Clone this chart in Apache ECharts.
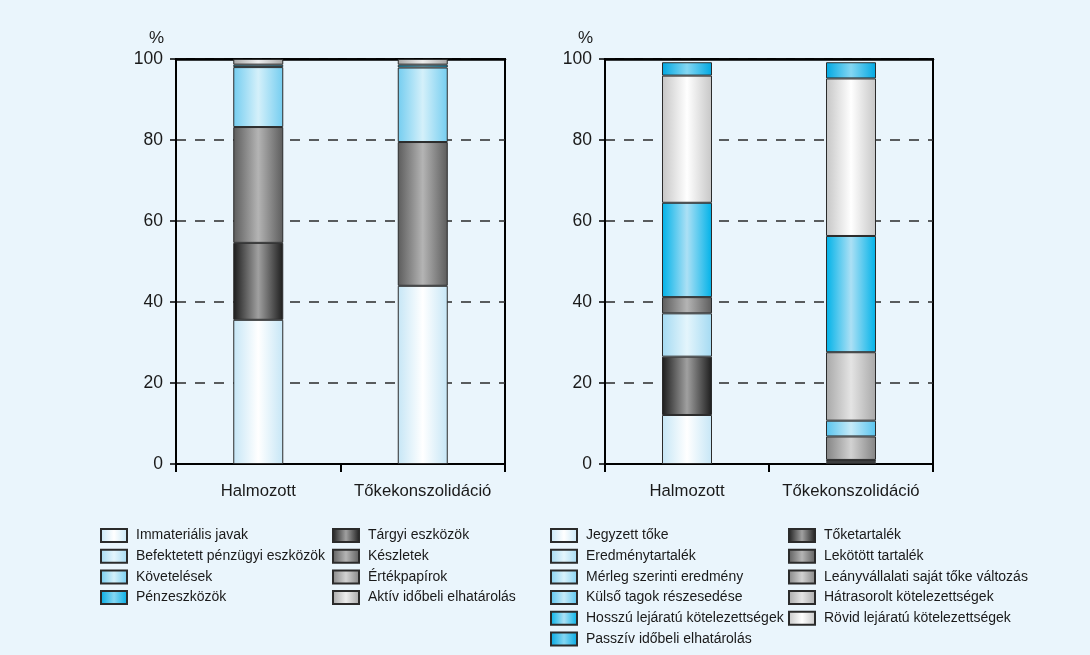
<!DOCTYPE html>
<html>
<head>
<meta charset="utf-8">
<script src="https://cdn.jsdelivr.net/npm/echarts@6/dist/echarts.min.js"></script>
<style>
  html, body { margin: 0; padding: 0; background: #eaf5fc; }
  #chart { width: 1090px; height: 655px; }
</style>
</head>
<body>
<div id="chart"></div>
<script>
// Categories shared by both panels
const categories = ['Halmozott', 'Tőkekonszolidáció'];
const yTicks = [0, 20, 40, 60, 80, 100];

// Assets (eszközök), %, stacked bottom to top
const assetNames = [
  'Immateriális javak', 'Tárgyi eszközök', 'Befektetett pénzügyi eszközök', 'Készletek',
  'Követelések', 'Értékpapírok', 'Pénzeszközök', 'Aktív időbeli elhatárolás'
];
const immaterialis   = [35.6, 44.0];
const targyi         = [19.0, null];
const befektetett    = [null, null];
const keszletek      = [28.6, 35.5];
const kovetelesek    = [14.8, 18.4];
const ertekpapirok   = [null, null];
const penzeszkozok   = [0.6, 0.7];
const aktivElhat     = [1.4, 1.4];
const assetValues = [immaterialis, targyi, befektetett, keszletek, kovetelesek, ertekpapirok, penzeszkozok, aktivElhat];

// Liabilities and equity (források), %, stacked bottom to top
const liabNames = [
  'Jegyzett tőke', 'Tőketartalék', 'Eredménytartalék', 'Lekötött tartalék',
  'Mérleg szerinti eredmény', 'Leányvállalati saját tőke változás', 'Külső tagok részesedése',
  'Hátrasorolt kötelezettségek', 'Hosszú lejáratú kötelezettségek', 'Rövid lejáratú kötelezettségek',
  'Passzív időbeli elhatárolás'
];
const jegyzettToke   = [12.1, 0.4];
const toketartalek   = [14.4, 0.2];
const eredmenytart   = [10.7, null];
const lekotott       = [4.0, 0.4];
const merlegEredm    = [null, null];
const leanyvallalati = [null, 5.8];
const kulsoTagok     = [null, 3.9];
const hatrasorolt    = [null, 16.9];
const hosszuLejaratu = [23.3, 28.7];
const rovidLejaratu  = [31.4, 38.9];
const passzivElhat   = [3.3, 4.0];
const liabValues = [jegyzettToke, toketartalek, eredmenytart, lekotott, merlegEredm, leanyvallalati,
  kulsoTagok, hatrasorolt, hosszuLejaratu, rovidLejaratu, passzivElhat];

// Cylinder-like horizontal shading: darker edges, lighter middle
function shade(edge, mid) {
  return new echarts.graphic.LinearGradient(0, 0, 1, 0, [
    { offset: 0, color: edge }, { offset: 0.5, color: mid }, { offset: 1, color: edge }
  ]);
}
const assetColors = [
  shade('#c6e6f6', '#ffffff'),
  shade('#1c1c1c', '#a0a0a0'),
  shade('#a4daf2', '#e4f5fc'),
  shade('#5c5c5c', '#b4b4b4'),
  shade('#74cdf0', '#d4f0fa'),
  shade('#848484', '#d2d2d2'),
  shade('#00ace4', '#86d6f2'),
  shade('#a6a6a6', '#ececec')
];
const liabColors = [
  shade('#c6e6f6', '#ffffff'),
  shade('#1c1c1c', '#a0a0a0'),
  shade('#a4daf2', '#e4f5fc'),
  shade('#5c5c5c', '#b4b4b4'),
  shade('#86d2f1', '#d8f1fb'),
  shade('#848484', '#d2d2d2'),
  shade('#58c4ee', '#c6eaf8'),
  shade('#a8a8a8', '#e4e4e4'),
  shade('#00b2e8', '#ace0f5'),
  shade('#c6c6c6', '#ffffff'),
  shade('#00a8e2', '#84d6f2')
];

const FONT = 'Liberation Sans, Arial, sans-serif';
const TXT = '#1a1a1a';

function yAxis(gridIndex) {
  return {
    type: 'value', gridIndex, min: 0, max: 100, interval: 20,
    name: '%', nameLocation: 'end', nameGap: 12,
    nameTextStyle: { fontFamily: FONT, fontSize: 17, color: TXT, align: 'right', padding: [0, 12, 0, 0] },
    axisLine: { show: true, lineStyle: { color: '#000', width: 2 } },
    axisTick: { show: true, length: 6, lineStyle: { color: '#000', width: 1.5 } },
    axisLabel: { fontFamily: FONT, fontSize: 17.5, color: TXT, margin: 13,
      formatter: v => yTicks.includes(v) ? String(v) : '' },
    splitLine: { show: true, lineStyle: { color: '#2a2a2a', width: 1.5, type: [10, 9] } }
  };
}
function xAxis(gridIndex) {
  return {
    type: 'category', gridIndex, data: categories, boundaryGap: true,
    axisLine: { show: true, lineStyle: { color: '#000', width: 2 } },
    axisTick: { show: true, interval: 0, length: 8, lineStyle: { color: '#000', width: 2 } },
    axisLabel: { interval: 0, fontFamily: FONT, fontSize: 16.7, color: TXT, margin: 19 }
  };
}
// Solid frame line along the top of each panel
function topFrame(gridIndex) {
  return {
    type: 'category', gridIndex, position: 'top', data: categories,
    axisLine: { show: true, lineStyle: { color: '#000', width: 2.5 } },
    axisTick: { show: false }, axisLabel: { show: false }, splitLine: { show: false }
  };
}
function makeSeries(names, values, colors, axisIdx, stack) {
  return names.map((n, i) => ({
    name: n, type: 'bar', stack, xAxisIndex: axisIdx, yAxisIndex: axisIdx,
    barWidth: 50, data: values[i],
    itemStyle: { color: colors[i], borderColor: '#2b2b2b', borderWidth: 1 },
    emphasis: { disabled: true }
  }));
}
function legend(names, left, top) {
  return {
    data: names, orient: 'vertical', left, top, height: 160, padding: 0,
    icon: 'rect', itemWidth: 26, itemHeight: 13, itemGap: 5.7,
    selectedMode: false,
    textStyle: { fontFamily: FONT, fontSize: 14, color: TXT, padding: [0, 0, 0, 4] }
  };
}

const chart = echarts.init(document.getElementById('chart'), null, { renderer: 'canvas' });
chart.setOption({
  backgroundColor: '#eaf5fc',
  animation: false,
  grid: [
    { left: 176, right: 585, top: 59, bottom: 191, show: true, borderColor: '#000', borderWidth: 2, backgroundColor: 'transparent' },
    { left: 605, right: 157, top: 59, bottom: 191, show: true, borderColor: '#000', borderWidth: 2, backgroundColor: 'transparent' }
  ],
  xAxis: [xAxis(0), xAxis(1), topFrame(0), topFrame(1)],
  yAxis: [yAxis(0), yAxis(1)],
  legend: [
    legend([assetNames[0], assetNames[2], assetNames[4], assetNames[6]], 100, 528),
    legend([assetNames[1], assetNames[3], assetNames[5], assetNames[7]], 332, 528),
    legend([liabNames[0], liabNames[2], liabNames[4], liabNames[6], liabNames[8], liabNames[10]], 550, 528),
    legend([liabNames[1], liabNames[3], liabNames[5], liabNames[7], liabNames[9]], 788, 528)
  ],
  series: [
    ...makeSeries(assetNames, assetValues, assetColors, 0, 'assets'),
    ...makeSeries(liabNames, liabValues, liabColors, 1, 'liab')
  ]
});
</script>
</body>
</html>
